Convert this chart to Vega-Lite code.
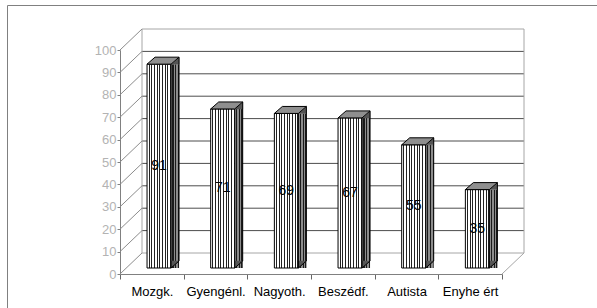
{
  "$schema": "https://vega.github.io/schema/vega-lite/v6.json",
  "width": 600,
  "height": 310,
  "autosize": "none",
  "padding": {"left": 7, "top": 5, "right": -10, "bottom": -7},
  "background": "white",
  "config": {"view": {"stroke": "#808080", "strokeWidth": 1}, "font": "Liberation Sans"},
  "datasets": {
    "bars": [
      {"cat": "Mozgk.", "v": 91},
      {"cat": "Gyengénl.", "v": 71},
      {"cat": "Nagyoth.", "v": 69},
      {"cat": "Beszédf.", "v": 67},
      {"cat": "Autista", "v": 55},
      {"cat": "Enyhe ért", "v": 35}
    ],
    "grid": [
      {"g": 0}, {"g": 10}, {"g": 20}, {"g": 30}, {"g": 40}, {"g": 50},
      {"g": 60}, {"g": 70}, {"g": 80}, {"g": 90}, {"g": 100}
    ]
  },
  "resolve": {"scale": {"x": "independent", "y": "independent"}},
  "layer": [
    {
      "data": {"name": "grid"},
      "encoding": {
        "y": {
          "field": "g", "type": "quantitative",
          "scale": {"domain": [0, 100], "range": [269, 45], "nice": false, "zero": false},
          "axis": {
            "orient": "left", "offset": -113, "values": [0, 10, 20, 30, 40, 50, 60, 70, 80, 90, 100],
            "grid": false, "title": null, "domainColor": "#808080", "tickColor": "#808080",
            "tickSize": 3, "labelColor": "#b3b3b3", "labelFontSize": 13, "labelPadding": 1,
            "labelFont": "Liberation Sans"
          }
        }
      },
      "layer": [
        {
          "transform": [{"filter": "datum.g > 0 && datum.g < 100"}],
          "mark": {"type": "rule", "color": "#4d4d4d", "strokeWidth": 1, "xOffset": 22, "x2Offset": 22, "yOffset": -21},
          "encoding": {
            "x": {"datum": 0, "type": "quantitative", "scale": {"domain": [0, 6], "range": [113, 495], "nice": false, "zero": false}, "axis": null},
            "x2": {"datum": 6}
          }
        },
        {
          "transform": [{"filter": "datum.g == 0 || datum.g == 100"}],
          "mark": {"type": "rule", "color": "#a6a6a6", "strokeWidth": 1, "xOffset": 22, "x2Offset": 22, "yOffset": -21},
          "encoding": {
            "x": {"datum": 0, "type": "quantitative", "scale": {"domain": [0, 6], "range": [113, 495], "nice": false, "zero": false}, "axis": null},
            "x2": {"datum": 6}
          }
        },
        {
          "transform": [{"filter": "datum.g == 0"}],
          "mark": {"type": "rule", "color": "#a6a6a6", "strokeWidth": 1, "xOffset": 22, "yOffset": -21, "y2Offset": -21},
          "encoding": {
            "x": {"datum": 0, "type": "quantitative", "scale": {"domain": [0, 6], "range": [113, 495], "nice": false, "zero": false}, "axis": null},
            "y": {"datum": 0},
            "y2": {"datum": 100}
          }
        },
        {
          "transform": [{"filter": "datum.g == 0"}],
          "mark": {"type": "rule", "color": "#a6a6a6", "strokeWidth": 1, "xOffset": 22, "yOffset": -21, "y2Offset": -21},
          "encoding": {
            "x": {"datum": 6, "type": "quantitative", "scale": {"domain": [0, 6], "range": [113, 495], "nice": false, "zero": false}, "axis": null},
            "y": {"datum": 0},
            "y2": {"datum": 100}
          }
        },
        {
          "mark": {"type": "rule", "color": "#8c8c8c", "strokeWidth": 1, "x2Offset": 22, "y2Offset": -21},
          "encoding": {
            "x": {"datum": 0, "type": "quantitative", "scale": {"domain": [0, 6], "range": [113, 495], "nice": false, "zero": false}, "axis": null},
            "x2": {"datum": 0},
            "y2": {"field": "g"}
          }
        },
        {
          "transform": [{"filter": "datum.g == 0"}],
          "mark": {"type": "rule", "color": "#a6a6a6", "strokeWidth": 1, "x2Offset": 22, "y2Offset": -21},
          "encoding": {
            "x": {"datum": 6, "type": "quantitative", "scale": {"domain": [0, 6], "range": [113, 495], "nice": false, "zero": false}, "axis": null},
            "x2": {"datum": 6},
            "y2": {"field": "g"}
          }
        }
      ]
    },
    {
      "data": {"name": "bars"},
      "encoding": {
        "x": {
          "field": "cat", "type": "nominal", "sort": null,
          "scale": {"type": "band", "range": [113, 495], "paddingInner": 0, "paddingOuter": 0},
          "axis": {
            "orient": "bottom", "offset": -41, "title": null, "tickBand": "extent", "tickSize": 5,
            "tickColor": "#666666", "domainColor": "#808080", "labelColor": "#000000",
            "labelFontSize": 13, "labelFont": "Liberation Sans", "labelPadding": 6,
            "labelAngle": 0, "labelOverlap": false, "grid": false
          }
        },
        "y": {
          "field": "v", "type": "quantitative",
          "scale": {"domain": [0, 100], "range": [269, 45], "nice": false, "zero": false},
          "axis": null
        }
      },
      "layer": [
        {
          "mark": {
            "type": "bar", "width": 8, "xOffset": 23.2, "yOffset": -6, "y2Offset": -13,
            "fill": {"gradient": "linear", "x1": 0, "y1": 0, "x2": 1, "y2": 0, "stops": [
              {"offset": 0, "color": "#8c8c8c"}, {"offset": 0.183, "color": "#8c8c8c"},
              {"offset": 0.183, "color": "#1a1a1a"}, {"offset": 0.333, "color": "#1a1a1a"},
              {"offset": 0.333, "color": "#8c8c8c"}, {"offset": 0.517, "color": "#8c8c8c"},
              {"offset": 0.517, "color": "#1a1a1a"}, {"offset": 0.667, "color": "#1a1a1a"},
              {"offset": 0.667, "color": "#8c8c8c"}, {"offset": 0.85, "color": "#8c8c8c"},
              {"offset": 0.85, "color": "#1a1a1a"}, {"offset": 1, "color": "#1a1a1a"}
            ]}
          }
        },
        {
          "mark": {"type": "point", "shape": "M0.75,0L1.25,-0.4375L1.25,0Z", "size": 1024, "filled": true,
                   "fill": "#555555", "stroke": "#555555", "strokeWidth": 0.5, "opacity": 1, "xOffset": 7.2, "yOffset": -6}
        },
        {
          "mark": {"type": "point", "shape": "M0.75,-0.4375L1.25,-0.4375L0.75,0Z", "size": 1024, "filled": true,
                   "fill": "#555555", "stroke": "#555555", "strokeWidth": 0.5, "opacity": 1, "xOffset": 7.2, "yOffset": -6},
          "encoding": {"y": {"datum": 0}}
        },
        {
          "mark": {
            "type": "bar", "width": 24, "xOffset": 7.2, "yOffset": -6, "y2Offset": -6,
            "stroke": "#000000", "strokeWidth": 1,
            "fill": {"gradient": "linear", "x1": 0, "y1": 0, "x2": 1, "y2": 0, "stops": [
              {"offset": 0, "color": "#ffffff"}, {"offset": 0.07, "color": "#ffffff"},
              {"offset": 0.07, "color": "#222222"}, {"offset": 0.111, "color": "#222222"},
              {"offset": 0.111, "color": "#ffffff"}, {"offset": 0.181, "color": "#ffffff"},
              {"offset": 0.181, "color": "#222222"}, {"offset": 0.222, "color": "#222222"},
              {"offset": 0.222, "color": "#ffffff"}, {"offset": 0.292, "color": "#ffffff"},
              {"offset": 0.292, "color": "#222222"}, {"offset": 0.333, "color": "#222222"},
              {"offset": 0.333, "color": "#ffffff"}, {"offset": 0.403, "color": "#ffffff"},
              {"offset": 0.403, "color": "#222222"}, {"offset": 0.444, "color": "#222222"},
              {"offset": 0.444, "color": "#ffffff"}, {"offset": 0.514, "color": "#ffffff"},
              {"offset": 0.514, "color": "#222222"}, {"offset": 0.556, "color": "#222222"},
              {"offset": 0.556, "color": "#ffffff"}, {"offset": 0.626, "color": "#ffffff"},
              {"offset": 0.626, "color": "#222222"}, {"offset": 0.667, "color": "#222222"},
              {"offset": 0.667, "color": "#ffffff"}, {"offset": 0.737, "color": "#ffffff"},
              {"offset": 0.737, "color": "#222222"}, {"offset": 0.778, "color": "#222222"},
              {"offset": 0.778, "color": "#ffffff"}, {"offset": 0.848, "color": "#ffffff"},
              {"offset": 0.848, "color": "#222222"}, {"offset": 0.889, "color": "#222222"},
              {"offset": 0.889, "color": "#ffffff"}, {"offset": 0.959, "color": "#ffffff"},
              {"offset": 0.959, "color": "#222222"}, {"offset": 1, "color": "#222222"}
            ]}
          }
        },
        {
          "mark": {"type": "point", "shape": "M-0.75,0L0.75,0L1.25,-0.4375L-0.25,-0.4375Z", "size": 1024, "filled": true,
                   "fill": "#8f8f8f", "stroke": "#000000", "strokeWidth": 1, "opacity": 1, "xOffset": 7.2, "yOffset": -6}
        },
        {
          "mark": {"type": "rule", "color": "#000000", "strokeWidth": 1, "xOffset": 27.2, "yOffset": -13, "y2Offset": -13},
          "encoding": {"y2": {"datum": 0}}
        },
        {
          "mark": {"type": "point", "shape": "M1.25,-0.4375L0.75,0", "size": 1024, "filled": false,
                   "stroke": "#000000", "strokeWidth": 1, "opacity": 1, "xOffset": 7.2, "yOffset": -6},
          "encoding": {"y": {"datum": 0}}
        }
      ]
    },
    {
      "data": {"name": "bars"},
      "mark": {"type": "text", "xOffset": 7.2, "yOffset": -6, "fontSize": 14, "font": "Liberation Sans", "color": "#000000"},
      "encoding": {
        "x": {
          "field": "cat", "type": "nominal", "sort": null,
          "scale": {"type": "band", "range": [113, 495], "paddingInner": 0, "paddingOuter": 0},
          "axis": null
        },
        "y": {
          "field": "v", "type": "quantitative",
          "scale": {"domain": [0, 200], "range": [269, 45], "nice": false, "zero": false},
          "axis": null
        },
        "text": {"field": "v", "type": "quantitative"}
      }
    }
  ]
}
